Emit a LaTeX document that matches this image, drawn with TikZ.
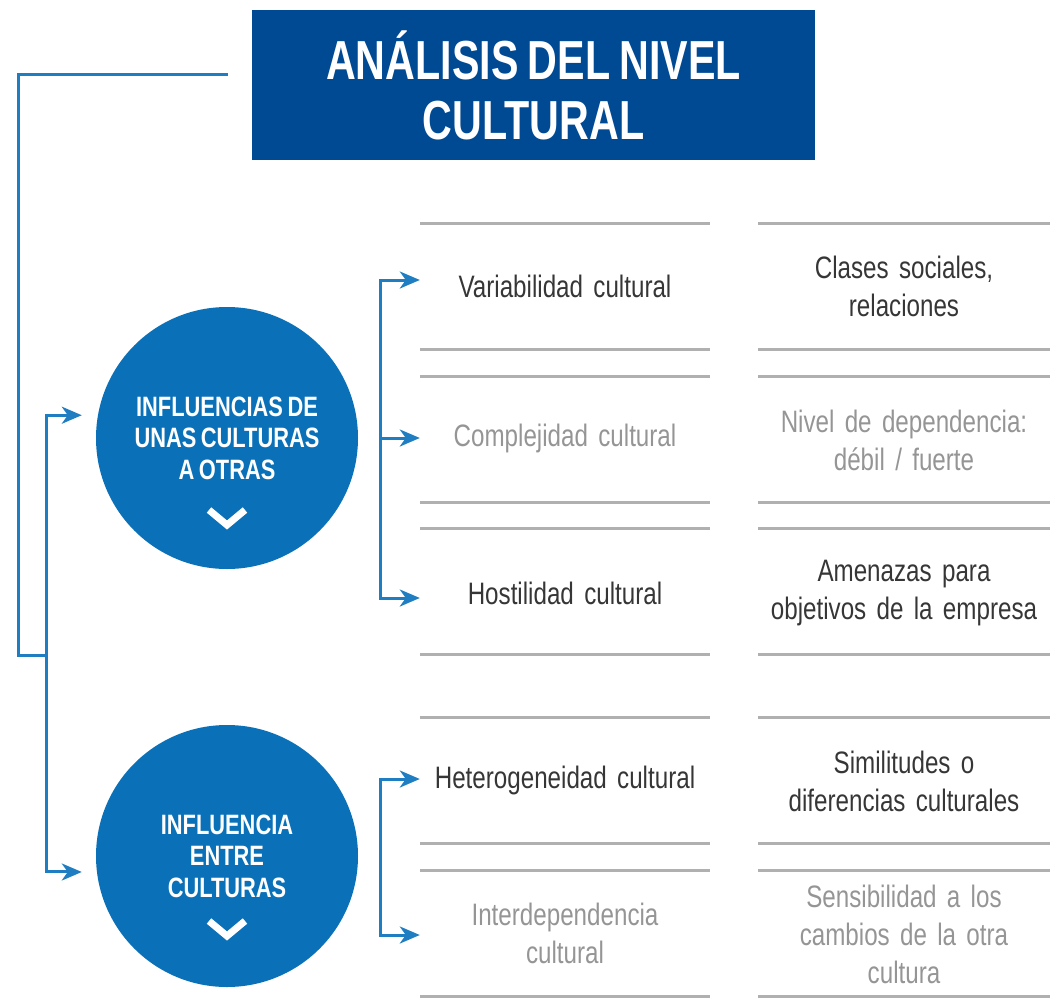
\documentclass[tikz,border=0pt]{standalone}
\usepackage{fontspec}
\usetikzlibrary{arrows.meta}
\newfontfamily\condf{Liberation Sans}[FakeStretch=0.78,WordSpace=0.75]
\newfontfamily\titlef{Liberation Sans}[FakeStretch=0.75,WordSpace=0.8]
\definecolor{titleblue}{HTML}{004A93}
\definecolor{circblue}{HTML}{0A71B8}
\definecolor{connblue}{HTML}{1F7EC2}
\definecolor{rulegray}{HTML}{B0B0B0}
\definecolor{darktext}{HTML}{363636}
\definecolor{lighttext}{HTML}{959595}
\begin{document}
\begin{tikzpicture}[x=1pt,y=-1pt,
  conn/.style={draw=connblue,line width=3pt},
  arr/.style={conn,-{Stealth[length=20pt,width=17pt,inset=6pt]}},
  rulel/.style={draw=rulegray,line width=3pt},
  titlebox/.style={rectangle,fill=titleblue,text=white,minimum width=563pt,minimum height=150pt,inner sep=0pt,align=center,font=\titlef\bfseries\fontsize{55}{60}\selectfont},
  circ/.style={circle,fill=circblue,text=white,minimum size=262pt,inner sep=0pt,align=center,font=\condf\bfseries\fontsize{28}{31.5}\selectfont},
  chev/.style={draw=white,line width=7pt},
  lcol/.style={text width=290pt,inner sep=0pt,align=center,font=\condf\fontsize{31}{38}\selectfont},
  rcol/.style={text width=292pt,inner sep=0pt,align=center,font=\condf\fontsize{31}{38}\selectfont},
  dk/.style={text=darktext},
  lg/.style={text=lighttext}
]
\useasboundingbox (0,0) rectangle (1050,1002);

% title
\node[titlebox] (title) at (533.5,85) {ANÁLISIS DEL NIVEL\\CULTURAL};

% circles
\node[circ] (c1) at (227,438) {INFLUENCIAS DE\\UNAS CULTURAS\\A OTRAS};
\node[circ] (c2) at (227,856) {INFLUENCIA\\ENTRE\\CULTURAS};
\draw[chev] (209,510) -- (227,525) -- (245,510);
\draw[chev] (209,921) -- (227,936) -- (245,921);

% grey rules
\foreach \y in {223,349,376,502,528,654,717,843,870,996}{
  \draw[rulel] (420,\y) -- (710,\y);
  \draw[rulel] (758,\y) -- (1050,\y);
}

% left column texts
\node[lcol,dk] (var) at (565,286) {Variabilidad cultural};
\node[lcol,lg] (comp) at (565,438) {Complejidad cultural};
\node[lcol,dk] (host) at (565,593) {Hostilidad cultural};
\node[lcol,dk] (het) at (565,780) {Heterogeneidad cultural};
\node[lcol,lg] (inter) at (565,933) {Interdependencia\\cultural};

% right column texts
\node[rcol,dk] (clases) at (904,286) {Clases sociales,\\relaciones};
\node[rcol,lg] (nivel) at (904,440) {Nivel de dependencia:\\débil / fuerte};
\node[rcol,dk] (amen) at (904,593) {Amenazas para\\objetivos de la empresa};
\node[rcol,dk] (simil) at (904,781) {Similitudes o\\diferencias culturales};
\node[rcol,lg] (sens) at (904,934) {Sensibilidad a los\\cambios de la otra\\cultura};

% left bracket
\coordinate (tl) at (228,74);
\coordinate (lc) at (18,655);
\coordinate (j1) at (46,655);
\draw[conn] (tl) -| (lc) -- (j1);
\draw[arr,shorten >=16pt] (j1) |- (c1.170);
\draw[arr,shorten >=15pt] (j1) |- (c2.187);

% right bracket 1
\coordinate (b1) at (380,438);
\draw[arr] (b1) |- ([yshift=6pt]var.west);
\draw[arr] (b1) -- (comp.west);
\draw[arr] (b1) |- ([yshift=-5pt]host.west);

% right bracket 2
\coordinate (b2) at (380,857);
\draw[arr] (b2) |- ([yshift=1pt]het.west);
\draw[arr] (b2) |- ([yshift=-2pt]inter.west);
\end{tikzpicture}
\end{document}
